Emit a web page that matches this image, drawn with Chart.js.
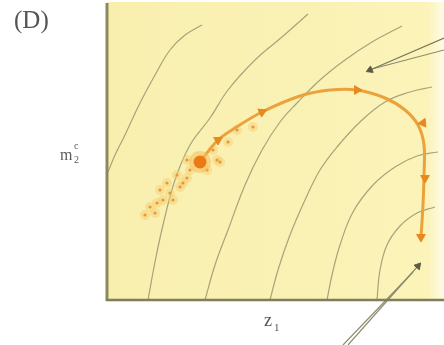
<!DOCTYPE html>
<html>
<head>
<meta charset="utf-8">
<script src="https://cdn.jsdelivr.net/npm/chart.js@4"></script>
<style>
  html, body { margin: 0; padding: 0; background: #ffffff; }
  #wrap { width: 444px; height: 345px; }
</style>
</head>
<body>
<div id="wrap"><canvas id="c" width="444" height="345"></canvas></div>
<script>
// Axis ranges (arbitrary units)
const xRange = [0, 333];
const yRange = [0, 300];

// Contour lines: [x, y] pairs
const contourA = [[1,128],[8,145],[18,165],[33,197],[48,225],[63,250],[78,265],[95,275]];
const contourB = [[41,0],[48,38],[56,75],[68,120],[83,155],[103,182],[121,210],[148,240],[175,263],[201,286]];
const contourC = [[98,0],[108,35],[121,70],[138,115],[155,150],[173,178],[190,197],[213,220],[238,240],[265,258],[295,274]];
const contourD = [[163,0],[171,30],[183,65],[198,100],[213,130],[230,153],[253,178],[278,198],[303,208],[325,213]];
const contourE = [[220,0],[225,25],[233,55],[246,88],[266,115],[288,133],[310,144],[331,148]];
const contourF = [[270,0],[273,30],[280,55],[293,74],[310,87],[328,93]];

// Optimisation trajectory
const trajectory = [[96,142],[111,160],[128,172],[155,188],[193,204],[223,210],[250,210],[278,202],[298,190],[311,175],[317,155],[317,125],[316,95],[314,63]];
const trajMarkers = [[111,160],[155,188],[250,210],[316,177],[318,122],[314,63]];
const markerAngles = [60, 65, 90, 145, 180, 180];

// Start point and sample cloud
const startPoint = [[93,138]];
const cloud = [[130,170],[146,173],[121,158],[106,150],[110,140],[80,140],[83,130],[70,125],[76,117],[60,117],[53,110],[63,107],[73,113],[56,100],[50,97],[43,93],[66,100],[80,122],[100,130],[113,138],[48,87],[38,85]];

// Annotation arrows (pointer lines)
const arrowTopA = [[263,230],[337,262]];
const arrowTopB = [[265,231],[337,250]];
const arrowBotA = [[311,34],[241,-45]];
const arrowBotB = [[306,28],[236,-45]];
const arrowTips = [[263,230],[311,34]];
const arrowTipAngles = [247, 41];

const pts = a => a.map(p => ({x: p[0], y: p[1]}));

const contourStyle = {
  showLine: true, borderColor: '#A7A37B', borderWidth: 1.2, pointRadius: 0,
  tension: 0.4, fill: false, order: 10
};
const arrowStyle = {
  showLine: true, borderColor: '#8B8A6E', borderWidth: 1.2, pointRadius: 0,
  tension: 0, fill: false, clip: false, order: 9
};

const plotDecor = {
  id: 'plotDecor',
  beforeDatasetsDraw(chart) {
    const {ctx, chartArea: a} = chart;
    ctx.save();
    const g = ctx.createLinearGradient(a.left, 0, a.right + 4, 0);
    g.addColorStop(0, '#F8EFAF');
    g.addColorStop(0.95, '#FBF3B8');
    g.addColorStop(1, '#FEFBE6');
    ctx.fillStyle = g;
    ctx.fillRect(a.left, a.top + 2, a.right - a.left + 4, a.bottom - a.top - 2);
    ctx.restore();
  },
  afterDatasetsDraw(chart) {
    const {ctx, chartArea: a} = chart;
    ctx.save();
    ctx.strokeStyle = '#8C895C';
    ctx.lineWidth = 3;
    ctx.beginPath();
    ctx.moveTo(a.left, a.top + 3);
    ctx.lineTo(a.left, a.bottom + 1);
    ctx.stroke();
    ctx.strokeStyle = '#7F7D5A';
    ctx.lineWidth = 2.5;
    ctx.beginPath();
    ctx.moveTo(a.left - 1, a.bottom);
    ctx.lineTo(a.right + 4, a.bottom);
    ctx.stroke();
    // Texts
    ctx.fillStyle = '#555555';
    ctx.textBaseline = 'alphabetic';
    ctx.font = '25px "Liberation Serif", serif';
    ctx.fillText('(D)', 14, 28);
    ctx.fillStyle = '#5a5a5a';
    ctx.font = '16px "Liberation Serif", serif';
    ctx.fillText('m', 60, 160);
    ctx.font = '10px "Liberation Serif", serif';
    ctx.fillText('c', 74, 149);
    ctx.fillText('2', 74, 163);
    ctx.fillStyle = '#555555';
    ctx.font = '18px "Liberation Serif", serif';
    ctx.fillText('z', 264, 326);
    ctx.font = '11px "Liberation Serif", serif';
    ctx.fillText('1', 274, 331);
    ctx.restore();
  }
};

new Chart(document.getElementById('c'), {
  type: 'scatter',
  data: {
    datasets: [
      Object.assign({data: pts(contourA)}, contourStyle),
      Object.assign({data: pts(contourB)}, contourStyle),
      Object.assign({data: pts(contourC)}, contourStyle),
      Object.assign({data: pts(contourD)}, contourStyle),
      Object.assign({data: pts(contourE)}, contourStyle),
      Object.assign({data: pts(contourF)}, contourStyle),
      Object.assign({data: pts(arrowTopA)}, arrowStyle, {borderColor: '#77765A'}),
      Object.assign({data: pts(arrowTopB)}, arrowStyle),
      Object.assign({data: pts(arrowBotA)}, arrowStyle),
      Object.assign({data: pts(arrowBotB)}, arrowStyle),
      {data: pts(arrowTips), showLine: false, pointStyle: 'triangle', pointRadius: 4,
       rotation: arrowTipAngles, backgroundColor: '#5E5C40', borderColor: '#5E5C40', borderWidth: 1, clip: false, order: 8},
      {data: pts(cloud), showLine: false, pointRadius: 5, backgroundColor: 'rgba(246,205,110,0.45)', borderWidth: 0, order: 7},
      {data: pts(cloud), showLine: false, pointRadius: 1.6, backgroundColor: '#E39A3A', borderWidth: 0, order: 6},
      {data: pts(trajectory), showLine: true, borderColor: '#EBA23C', borderWidth: 3, pointRadius: 0, tension: 0.35, order: 5},
      {data: pts(trajMarkers), showLine: false, pointStyle: 'triangle', pointRadius: 5,
       rotation: markerAngles, backgroundColor: '#E8881E', borderColor: '#E8881E', borderWidth: 1, order: 4},
      {data: pts(startPoint), showLine: false, pointRadius: 11, backgroundColor: 'rgba(246,190,90,0.55)', borderWidth: 0, order: 3},
      {data: pts(startPoint), showLine: false, pointRadius: 6.5, backgroundColor: '#EB7A14', borderWidth: 0, order: 2}
    ]
  },
  options: {
    responsive: false,
    animation: false,
    devicePixelRatio: 1,
    layout: {autoPadding: false, padding: {left: 107, right: 4, top: 0, bottom: 45}},
    plugins: {legend: {display: false}, tooltip: {enabled: false}},
    scales: {
      x: {type: 'linear', min: xRange[0], max: xRange[1], display: false},
      y: {type: 'linear', min: yRange[0], max: yRange[1], display: false}
    }
  },
  plugins: [plotDecor]
});
</script>
</body>
</html>
